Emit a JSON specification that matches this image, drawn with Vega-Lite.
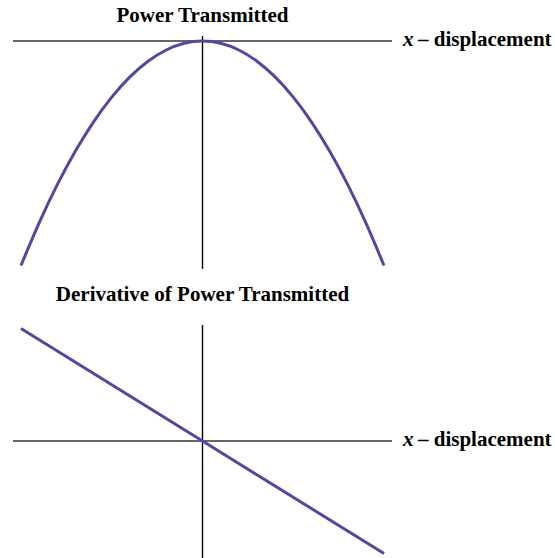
{
  "$schema": "https://vega.github.io/schema/vega-lite/v6.json",
  "background": "white",
  "autosize": "none",
  "width": 379,
  "height": 558,
  "padding": {"left": 13, "top": 0, "right": 163, "bottom": 0},
  "config": {"view": {"stroke": null}},
  "resolve": {"scale": {"y": "independent"}},
  "layer": [
    {
      "layer": [
        {
          "data": {"values": [{"a": 1}]},
          "mark": {"type": "rule", "color": "#333333", "strokeWidth": 1.5},
          "encoding": {"y": {"datum": 0, "type": "quantitative", "scale": {"domain": [-2.3029, 0.1826], "nice": false, "zero": false}, "axis": null}}
        },
        {
          "data": {"values": [{"a": 1}]},
          "mark": {"type": "rule", "color": "#000000", "strokeWidth": 1.4},
          "encoding": {
            "x": {"datum": 0, "type": "quantitative", "scale": {"domain": [-1.044, 1.044], "nice": false, "zero": false}, "axis": null},
            "y": {"datum": 0.0223, "type": "quantitative", "scale": {"domain": [-2.3029, 0.1826], "nice": false, "zero": false}, "axis": null},
            "y2": {"datum": -1.0156}
          }
        },
        {
          "data": {"values": [
            {"x": -1.0, "y": -1.0}, {"x": -0.9, "y": -0.81}, {"x": -0.8, "y": -0.64}, {"x": -0.7, "y": -0.49},
            {"x": -0.6, "y": -0.36}, {"x": -0.5, "y": -0.25}, {"x": -0.4, "y": -0.16}, {"x": -0.3, "y": -0.09},
            {"x": -0.2, "y": -0.04}, {"x": -0.1, "y": -0.01}, {"x": 0.0, "y": 0.0}, {"x": 0.1, "y": -0.01},
            {"x": 0.2, "y": -0.04}, {"x": 0.3, "y": -0.09}, {"x": 0.4, "y": -0.16}, {"x": 0.5, "y": -0.25},
            {"x": 0.6, "y": -0.36}, {"x": 0.7, "y": -0.49}, {"x": 0.8, "y": -0.64}, {"x": 0.9, "y": -0.81},
            {"x": 1.0, "y": -1.0}
          ]},
          "mark": {"type": "line", "color": "#4e4aa0", "strokeWidth": 3, "interpolate": "monotone"},
          "encoding": {
            "x": {"field": "x", "type": "quantitative", "scale": {"domain": [-1.044, 1.044], "nice": false, "zero": false}, "axis": null},
            "y": {"field": "y", "type": "quantitative", "scale": {"domain": [-2.3029, 0.1826], "nice": false, "zero": false}, "axis": null}
          }
        },
        {
          "data": {"values": [{"title": "Power Transmitted"}]},
          "mark": {"type": "text", "font": "Liberation Serif", "fontWeight": "bold", "fontSize": 21, "align": "center", "baseline": "alphabetic", "color": "black"},
          "encoding": {
            "text": {"field": "title"},
            "x": {"datum": 0, "type": "quantitative", "scale": {"domain": [-1.044, 1.044], "nice": false, "zero": false}, "axis": null},
            "y": {"datum": 0.0846, "type": "quantitative", "scale": {"domain": [-2.3029, 0.1826], "nice": false, "zero": false}, "axis": null}
          }
        },
        {
          "data": {"values": [{"a": 1}]},
          "mark": {"type": "text", "text": "x", "font": "Liberation Serif", "fontWeight": "bold", "fontStyle": "italic", "fontSize": 21, "align": "left", "baseline": "alphabetic", "dx": 11, "dy": 5, "color": "black"},
          "encoding": {
            "x": {"datum": 1.044, "type": "quantitative", "scale": {"domain": [-1.044, 1.044], "nice": false, "zero": false}, "axis": null},
            "y": {"datum": 0, "type": "quantitative", "scale": {"domain": [-2.3029, 0.1826], "nice": false, "zero": false}, "axis": null}
          }
        },
        {
          "data": {"values": [{"a": 1}]},
          "mark": {"type": "text", "text": "– displacement", "font": "Liberation Serif", "fontWeight": "bold", "fontSize": 21, "align": "left", "baseline": "alphabetic", "dx": 26, "dy": 5, "color": "black"},
          "encoding": {
            "x": {"datum": 1.044, "type": "quantitative", "scale": {"domain": [-1.044, 1.044], "nice": false, "zero": false}, "axis": null},
            "y": {"datum": 0, "type": "quantitative", "scale": {"domain": [-2.3029, 0.1826], "nice": false, "zero": false}, "axis": null}
          }
        }
      ]
    },
    {
      "layer": [
        {
          "data": {"values": [{"a": 1}]},
          "mark": {"type": "rule", "color": "#333333", "strokeWidth": 1.5},
          "encoding": {"y": {"datum": 0, "type": "quantitative", "scale": {"domain": [-1.04, 3.92], "nice": false, "zero": false}, "axis": null}}
        },
        {
          "data": {"values": [{"a": 1}]},
          "mark": {"type": "rule", "color": "#000000", "strokeWidth": 1.4},
          "encoding": {
            "x": {"datum": 0, "type": "quantitative", "scale": {"domain": [-1.044, 1.044], "nice": false, "zero": false}, "axis": null},
            "y": {"datum": 1.031, "type": "quantitative", "scale": {"domain": [-1.04, 3.92], "nice": false, "zero": false}, "axis": null},
            "y2": {"datum": -1.04}
          }
        },
        {
          "data": {"values": [{"x": -1.0, "y": 1.0}, {"x": 0.0, "y": 0.0}, {"x": 1.0, "y": -1.0}]},
          "mark": {"type": "line", "color": "#4e4aa0", "strokeWidth": 3},
          "encoding": {
            "x": {"field": "x", "type": "quantitative", "scale": {"domain": [-1.044, 1.044], "nice": false, "zero": false}, "axis": null},
            "y": {"field": "y", "type": "quantitative", "scale": {"domain": [-1.04, 3.92], "nice": false, "zero": false}, "axis": null}
          }
        },
        {
          "data": {"values": [{"title": "Derivative of Power Transmitted"}]},
          "mark": {"type": "text", "font": "Liberation Serif", "fontWeight": "bold", "fontSize": 21, "align": "center", "baseline": "alphabetic", "color": "black"},
          "encoding": {
            "text": {"field": "title"},
            "x": {"datum": 0, "type": "quantitative", "scale": {"domain": [-1.044, 1.044], "nice": false, "zero": false}, "axis": null},
            "y": {"datum": 1.244, "type": "quantitative", "scale": {"domain": [-1.04, 3.92], "nice": false, "zero": false}, "axis": null}
          }
        },
        {
          "data": {"values": [{"a": 1}]},
          "mark": {"type": "text", "text": "x", "font": "Liberation Serif", "fontWeight": "bold", "fontStyle": "italic", "fontSize": 21, "align": "left", "baseline": "alphabetic", "dx": 11, "dy": 5, "color": "black"},
          "encoding": {
            "x": {"datum": 1.044, "type": "quantitative", "scale": {"domain": [-1.044, 1.044], "nice": false, "zero": false}, "axis": null},
            "y": {"datum": 0, "type": "quantitative", "scale": {"domain": [-1.04, 3.92], "nice": false, "zero": false}, "axis": null}
          }
        },
        {
          "data": {"values": [{"a": 1}]},
          "mark": {"type": "text", "text": "– displacement", "font": "Liberation Serif", "fontWeight": "bold", "fontSize": 21, "align": "left", "baseline": "alphabetic", "dx": 26, "dy": 5, "color": "black"},
          "encoding": {
            "x": {"datum": 1.044, "type": "quantitative", "scale": {"domain": [-1.044, 1.044], "nice": false, "zero": false}, "axis": null},
            "y": {"datum": 0, "type": "quantitative", "scale": {"domain": [-1.04, 3.92], "nice": false, "zero": false}, "axis": null}
          }
        }
      ]
    }
  ]
}
